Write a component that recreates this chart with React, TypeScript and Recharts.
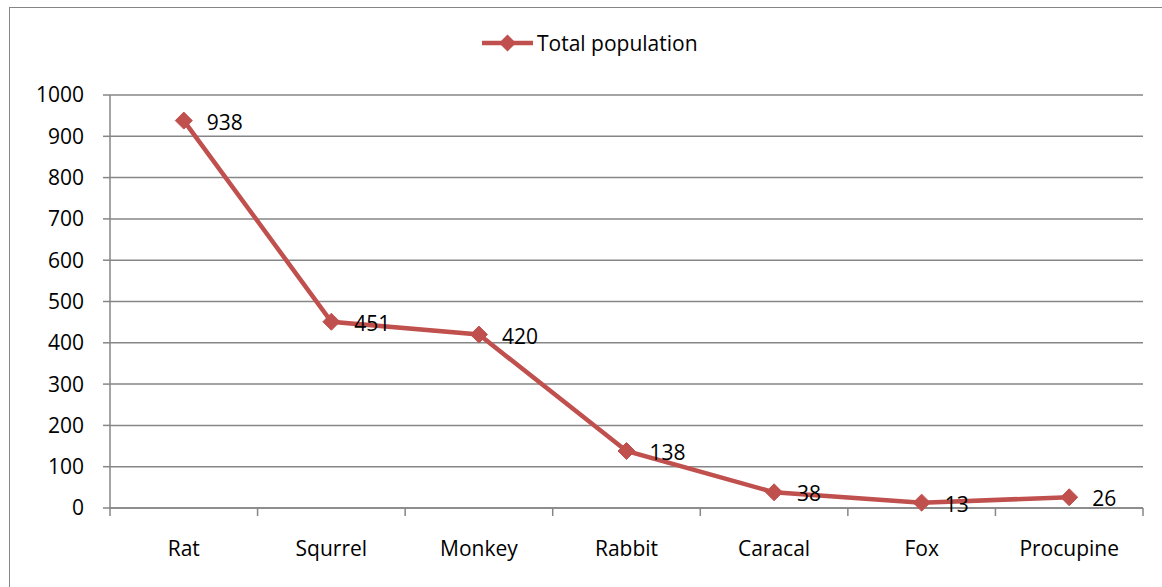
import React from 'react';
import {
  LineChart,
  Line,
  XAxis,
  YAxis,
  CartesianGrid,
  Legend,
  LabelList,
} from 'recharts';

const animals = ['Rat', 'Squrrel', 'Monkey', 'Rabbit', 'Caracal', 'Fox', 'Procupine'];
const population = [938, 451, 420, 138, 38, 13, 26];
const yTicks = [0, 100, 200, 300, 400, 500, 600, 700, 800, 900, 1000];

const RED = '#C0504D';
const GRID = '#868686';
const FONT = '"Open Sans", sans-serif';
const FS = 21;

const data = animals.map((name, i) => ({ name, value: population[i] }));

const WIDTH = 1162;
const HEIGHT = 587;
const PLOT_LEFT = 110;
const PLOT_RIGHT = 19;
const BAND = (WIDTH - PLOT_LEFT - PLOT_RIGHT) / animals.length;

const diamond = (cx: number, cy: number, r: number) =>
  `M${cx},${cy - r} L${cx + r},${cy} L${cx},${cy + r} L${cx - r},${cy} Z`;

const Dot = (props: any) => {
  const { cx, cy, index } = props;
  if (cx == null || cy == null) return null;
  return <path key={`d-${index}`} d={diamond(cx, cy, 8.5)} fill={RED} stroke={RED} strokeWidth={1} />;
};

const ValueLabel = (props: any) => {
  const { x, y, value } = props;
  return (
    <text x={x + 23} y={y + 1} fill="#000" fontSize={FS} fontFamily={FONT} dominantBaseline="central">
      {value}
    </text>
  );
};

// category label at the band centre, plus a tick mark at the band's left edge
// (and the right edge for the last band), like Excel's "between categories" axis
const CategoryTick = (props: any) => {
  const { x, y, payload, index } = props;
  const half = BAND / 2;
  return (
    <g>
      <line x1={x - half} y1={y} x2={x - half} y2={y + 8} stroke={GRID} strokeWidth={1.5} />
      {index === animals.length - 1 && (
        <line x1={x + half} y1={y} x2={x + half} y2={y + 8} stroke={GRID} strokeWidth={1.5} />
      )}
      <text x={x} y={y + 40} textAnchor="middle" fill="#000" fontSize={FS} fontFamily={FONT} dominantBaseline="central">
        {payload.value}
      </text>
    </g>
  );
};

const LegendContent = () => (
  <div style={{ display: 'flex', alignItems: 'center', fontFamily: FONT, fontSize: FS, color: '#000', lineHeight: '24px' }}>
    <svg width={54} height={20} style={{ display: 'block' }}>
      <line x1={0} y1={10} x2={51} y2={10} stroke={RED} strokeWidth={4.5} />
      <path d={diamond(25.5, 10, 8.5)} fill={RED} />
    </svg>
    <span style={{ marginLeft: 1 }}>Total population</span>
  </div>
);

export default function App() {
  return (
    <div style={{ position: 'fixed', left: 0, top: 0, width: WIDTH, height: HEIGHT, overflow: 'hidden', background: '#fff' }}>
      <div
        style={{
          position: 'absolute',
          left: 9,
          top: 7,
          width: WIDTH,
          height: HEIGHT,
          borderLeft: `1.5px solid ${GRID}`,
          borderTop: `1.5px solid ${GRID}`,
        }}
      />
      <div style={{ position: 'absolute', left: 0, top: 0 }}>
        <LineChart
          width={WIDTH}
          height={HEIGHT}
          data={data}
          margin={{ top: 71, right: PLOT_RIGHT, bottom: 29, left: 0 }}
        >
          <CartesianGrid vertical={false} stroke={GRID} strokeWidth={1.5} />
          <XAxis
            dataKey="name"
            height={50}
            padding={{ left: BAND / 2, right: BAND / 2 }}
            tickLine={false}
            axisLine={{ stroke: GRID, strokeWidth: 1.5 }}
            tickSize={0}
            tickMargin={0}
            interval={0}
            tick={<CategoryTick />}
          />
          <YAxis
            width={PLOT_LEFT}
            domain={[0, 1000]}
            ticks={yTicks}
            interval={0}
            tickSize={7}
            tickMargin={19}
            tickLine={{ stroke: GRID, strokeWidth: 1.5 }}
            axisLine={{ stroke: GRID, strokeWidth: 1.5 }}
            tick={{ fill: '#000', fontSize: FS, fontFamily: FONT }}
          />
          <Legend
            verticalAlign="top"
            content={<LegendContent />}
            wrapperStyle={{ top: 31, left: 482, width: 'auto' }}
          />
          <Line
            type="linear"
            dataKey="value"
            name="Total population"
            stroke={RED}
            strokeWidth={4.5}
            dot={<Dot />}
            activeDot={false}
            isAnimationActive={false}
          >
            <LabelList dataKey="value" content={<ValueLabel />} />
          </Line>
        </LineChart>
      </div>
    </div>
  );
}
